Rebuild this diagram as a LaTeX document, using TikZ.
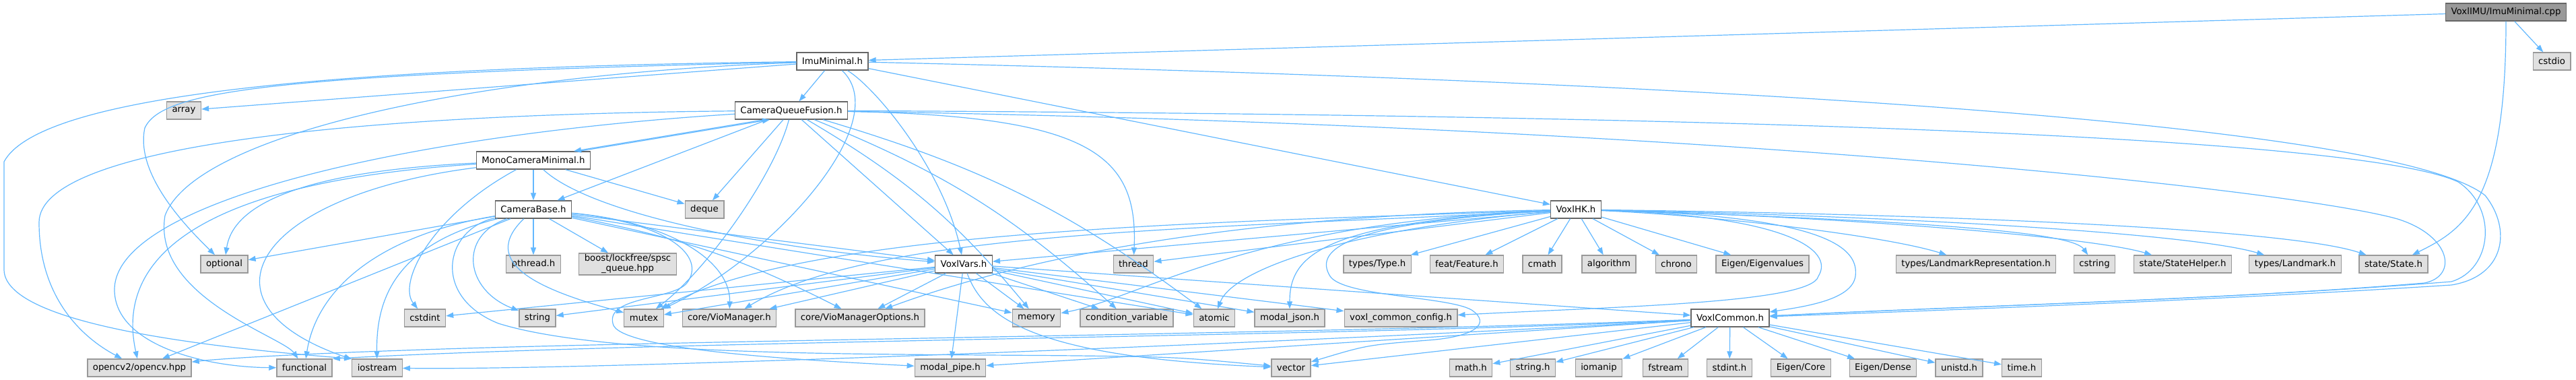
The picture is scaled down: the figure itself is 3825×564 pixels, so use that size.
\documentclass[tikz,border=0pt]{standalone}
\usepackage{fontspec}
\setmainfont{DejaVu Sans}
\usetikzlibrary{arrows.meta}
\definecolor{edgeblue}{RGB}{99,184,255}
\definecolor{sysfill}{RGB}{224,224,224}
\definecolor{sysline}{RGB}{153,153,153}
\definecolor{hdrline}{RGB}{102,102,102}
\definecolor{rootfill}{RGB}{153,153,153}

\begin{document}
\begin{tikzpicture}[x=1pt,y=1pt,
    sysbox/.style={draw=sysline, fill=sysfill, line width=1.3pt, minimum height=26pt,
      inner xsep=8pt, inner ysep=2pt, font=\fontsize{13.3}{15}\selectfont},
    hdrbox/.style={sysbox, draw=hdrline, fill=white},
    rootbox/.style={sysbox, draw=hdrline, fill=rootfill},
    incl/.style={draw=edgeblue, line width=1.2pt, -{Triangle[length=11pt,width=8pt]}}]
    \useasboundingbox (0,0) rectangle (3825,-564);

    % Rows of headers
    \node[rootbox] (cpp) at (3721,-18) {VoxlIMU/ImuMinimal.cpp};
    \node[hdrbox] (imu) at (1236,-91) {ImuMinimal.h};
    \node[sysbox] (cstdio) at (3789,-91) {cstdio};
    \node[sysbox] (array) at (273,-164) {array};
    \node[hdrbox] (cqf) at (1175,-164) {CameraQueueFusion.h};
    \node[hdrbox] (mono) at (792,-238) {MonoCameraMinimal.h};
    \node[hdrbox] (cambase) at (792,-311) {CameraBase.h};
    \node[sysbox] (deque) at (1046,-311) {deque};
    \node[hdrbox] (hk) at (2340,-311) {VoxlHK.h};

    \node[sysbox] (optional) at (333,-392) {optional};
    \node[sysbox] (pthread) at (792,-392) {pthread.h};
    \node[sysbox, align=center] (boost) at (932,-392) {boost/lockfree/spsc\\\_queue.hpp};
    \node[hdrbox] (vars) at (1431,-392) {VoxlVars.h};
    \node[sysbox] (thread) at (1683,-392) {thread};
    \node[sysbox] (type) at (2045,-392) {types/Type.h};
    \node[sysbox] (feature) at (2178,-392) {feat/Feature.h};
    \node[sysbox] (cmath) at (2290,-392) {cmath};
    \node[sysbox] (algorithm) at (2389,-392) {algorithm};
    \node[sysbox] (chrono) at (2489,-392) {chrono};
    \node[sysbox] (eigenvalues) at (2617,-392) {Eigen/Eigenvalues};
    \node[sysbox] (landmarkrep) at (2934,-392) {types/LandmarkRepresentation.h};
    \node[sysbox] (cstring) at (3110,-392) {cstring};
    \node[sysbox] (statehelper) at (3241,-392) {state/StateHelper.h};
    \node[sysbox] (landmark) at (3408,-392) {types/Landmark.h};
    \node[sysbox] (state) at (3554,-392) {state/State.h};

    \node[sysbox] (cstdint) at (631,-472) {cstdint};
    \node[sysbox] (string) at (798,-472) {string};
    \node[sysbox] (mutex) at (956,-472) {mutex};
    \node[sysbox] (viomanager) at (1083,-472) {core/VioManager.h};
    \node[sysbox] (vioopts) at (1277,-472) {core/VioManagerOptions.h};
    \node[sysbox] (memory) at (1539,-472) {memory};
    \node[sysbox] (condvar) at (1673,-472) {condition\_variable};
    \node[sysbox] (atomic) at (1803,-472) {atomic};
    \node[sysbox] (modaljson) at (1915,-472) {modal\_json.h};
    \node[sysbox] (voxlconfig) at (2080,-472) {voxl\_common\_config.h};
    \node[hdrbox] (common) at (2569,-472) {VoxlCommon.h};

    \node[sysbox] (opencv) at (207,-546) {opencv2/opencv.hpp};
    \node[sysbox] (functional) at (452,-546) {functional};
    \node[sysbox] (iostream) at (560,-546) {iostream};
    \node[sysbox] (modalpipe) at (1411,-546) {modal\_pipe.h};
    \node[sysbox] (vector) at (1917,-546) {vector};
    \node[sysbox] (mathh) at (2184,-546) {math.h};
    \node[sysbox] (stringh) at (2276,-546) {string.h};
    \node[sysbox] (iomanip) at (2374,-546) {iomanip};
    \node[sysbox] (fstream) at (2473,-546) {fstream};
    \node[sysbox] (stdinth) at (2568,-546) {stdint.h};
    \node[sysbox] (eigencore) at (2674,-546) {Eigen/Core};
    \node[sysbox] (eigendense) at (2796,-546) {Eigen/Dense};
    \node[sysbox] (unistd) at (2909,-546) {unistd.h};
    \node[sysbox] (timeh) at (3002,-546) {time.h};

    % From the cpp
    \draw[incl] (cpp) -- (imu);
    \draw[incl] (cpp) -- (cstdio);
    \draw[incl] (cpp) .. controls (3721,-300) and (3660,-340) .. (state);

    % From ImuMinimal.h
    \foreach \dst in {cqf,hk,array} \draw[incl] (imu) -- (\dst);
    \draw[incl] (imu) .. controls (1300,-130) and (1400,-250) .. (vars);
    \draw[incl] (imu) .. controls (1330,-180) and (1150,-380) .. (mutex);
    \draw[incl] (imu) .. controls (400,-110) and (240,-135) .. (215,-190) .. controls (200,-260) and (280,-340) .. (optional);
    \draw[incl] (imu) .. controls (700,-110) and (290,-200) .. (245,-320) .. controls (225,-440) and (420,-500) .. (functional);
    \draw[incl] (imu) .. controls (500,-100) and (60,-140) .. (6,-240) -- (6,-400) .. controls (6,-480) and (300,-515) .. (iostream.north west);
    \draw[incl] (imu) .. controls (2500,-120) and (3550,-180) .. (3690,-290) .. controls (3730,-340) and (3720,-410) .. (3640,-423) .. controls (3300,-445) and (2900,-460) .. (common);

    % From CameraQueueFusion.h
    \foreach \dst in {cambase,deque,vars} \draw[incl] (cqf) -- (\dst);
    \foreach \dst in {memory,condvar,atomic} \draw[incl] (cqf) to[bend left=10] (\dst);
    \draw[incl] ([xshift=-40pt]cqf.south) -- ([xshift=60pt]mono.north);
    \draw[incl] ([xshift=68pt]mono.north) -- ([xshift=-32pt]cqf.south);
    \draw[incl] (cqf) .. controls (1150,-260) and (1050,-400) .. (mutex);
    \draw[incl] (cqf) .. controls (1620,-172) and (1690,-230) .. (thread);
    \draw[incl] (cqf) .. controls (500,-170) and (58,-220) .. (58,-330) .. controls (58,-440) and (120,-500) .. (opencv);
    \draw[incl] (cqf) .. controls (600,-200) and (170,-300) .. (170,-430) .. controls (170,-510) and (300,-545) .. (functional);
    \draw[incl] (cqf) .. controls (2500,-170) and (3500,-200) .. (3650,-270) .. controls (3710,-310) and (3700,-400) .. (3640,-418) .. controls (3300,-445) and (2900,-455) .. (common);
    \draw[incl] (cqf) .. controls (2500,-185) and (3400,-280) .. (3560,-325) .. controls (3640,-350) and (3650,-410) .. (3600,-420) .. controls (3300,-445) and (2900,-455) .. (common);

    % From MonoCameraMinimal.h
    \foreach \dst in {cambase,deque} \draw[incl] (mono) -- (\dst);
    \draw[incl] (mono) .. controls (640,-320) and (590,-420) .. (cstdint);
    \draw[incl] (mono) .. controls (430,-255) and (345,-310) .. (optional);
    \draw[incl] (mono) .. controls (300,-270) and (170,-380) .. (opencv);
    \draw[incl] (mono) .. controls (380,-290) and (280,-450) .. (iostream);
    \draw[incl] (mono) .. controls (880,-320) and (1150,-370) .. (vars);

    % From CameraBase.h
    \foreach \dst in {pthread,boost,optional,opencv,vars,memory,atomic} \draw[incl] (cambase) -- (\dst);
    \draw[incl] (cambase) to[bend left=8] (vioopts);
    \draw[incl] (cambase) .. controls (680,-350) and (690,-430) .. (string);
    \draw[incl] (cambase) .. controls (710,-390) and (800,-430) .. (mutex);
    \draw[incl] (cambase) .. controls (1000,-330) and (1085,-390) .. (viomanager);
    \draw[incl] (cambase) .. controls (560,-350) and (470,-430) .. (functional);
    \draw[incl] (cambase) .. controls (600,-360) and (558,-430) .. (iostream);
    \draw[incl] (cambase) .. controls (990,-330) and (1050,-380) .. (1020,-420) .. controls (1000,-445) and (900,-440) .. (910,-480) .. controls (915,-520) and (1200,-535) .. (modalpipe);
    \draw[incl] (cambase) .. controls (660,-340) and (640,-440) .. (740,-480) .. controls (900,-530) and (1300,-525) .. (1600,-528) .. controls (1750,-530) .. (vector);

    % From VoxlVars.h
    \foreach \dst in {modalpipe,vioopts,viomanager,mutex,string,cstdint,memory,condvar,atomic,modaljson,voxlconfig,common}
        \draw[incl] (vars) -- (\dst);
    \draw[incl] (vars) .. controls (1460,-470) and (1530,-530) .. (vector);

    % From VoxlHK.h
    \foreach \dst in {type,feature,cmath,algorithm,chrono,eigenvalues,vars,thread} \draw[incl] (hk) -- (\dst);
    \draw[incl] (hk) .. controls (2550,-320) and (2800,-350) .. (landmarkrep);
    \draw[incl] (hk) .. controls (2950,-330) and (3080,-350) .. (cstring);
    \draw[incl] (hk) .. controls (2700,-320) and (3100,-350) .. (statehelper);
    \draw[incl] (hk) .. controls (2800,-320) and (3250,-345) .. (landmark);
    \draw[incl] (hk) .. controls (2900,-318) and (3400,-340) .. (state);
    \draw[incl] (hk) .. controls (1800,-340) and (1300,-340) .. (viomanager);
    \draw[incl] (hk) .. controls (1800,-330) and (1200,-340) .. (mutex);
    \draw[incl] (hk) .. controls (1850,-330) and (1700,-440) .. (memory);
    \draw[incl] (hk) .. controls (2000,-340) and (1830,-400) .. (atomic);
    \draw[incl] (hk) .. controls (1960,-330) and (1915,-380) .. (modaljson);
    \draw[incl] (hk) .. controls (1800,-320) and (1500,-390) .. (vioopts);
    \draw[incl] (hk) .. controls (2000,-330) and (1950,-370) .. (1975,-410) .. controls (1995,-440) and (2150,-440) .. (2185,-460) .. controls (2215,-480) and (2190,-500) .. (2120,-505) .. controls (2030,-512) .. (vector);
    \draw[incl] (hk) .. controls (2650,-320) and (2725,-370) .. (2700,-410) .. controls (2690,-450) and (2400,-455) .. (voxlconfig);
    \draw[incl] (hk) .. controls (2720,-320) and (2760,-370) .. (2755,-410) .. controls (2750,-445) and (2680,-455) .. (common);

    % From VoxlCommon.h
    \foreach \dst in {mathh,stringh,iomanip,fstream,stdinth,eigencore,eigendense,unistd,timeh,vector,modalpipe}
        \draw[incl] (common) -- (\dst);
    \draw[incl] (common) .. controls (2000,-500) and (1000,-505) .. (functional.north east);
    \draw[incl] (common) .. controls (2000,-505) and (900,-550) .. (iostream);
    \draw[incl] (common) .. controls (2000,-495) and (1000,-505) .. (600,-520) .. controls (450,-525) and (330,-532) .. (opencv);
\end{tikzpicture}
\end{document}
